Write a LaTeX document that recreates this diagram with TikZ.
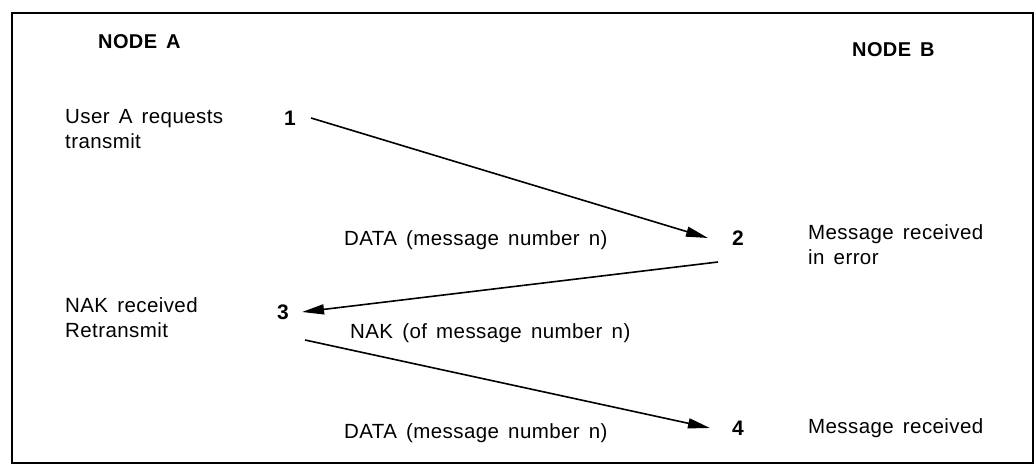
\documentclass[tikz,border=0pt]{standalone}
\usepackage{fontspec}
\setmainfont{Liberation Sans}[LetterSpace=2, WordSpace=1.5]
\usetikzlibrary{arrows.meta,positioning}
\tikzset{
  % plain label text
  lab/.style={anchor=west, align=left, inner sep=0pt,
    font=\fontsize{20.5}{25}\selectfont},
  % step numbers
  num/.style={inner sep=0pt, font=\fontsize{21}{24}\selectfont\bfseries},
  % column headings
  head/.style={anchor=west, inner sep=0pt, font=\fontsize{20}{24}\selectfont\bfseries},
  % message arrows
  arr/.style={-{Triangle[length=22pt,width=10pt]}, line width=1.6pt},
}
\begin{document}
\begin{tikzpicture}[x=1pt, y=-1pt]
  \useasboundingbox (0,0) rectangle (1035,473);
  \draw[line width=2pt] (12,13) rectangle (1033,463);

  % headings
  \node[head] (nodeA) at (98,42) {NODE A};
  \node[head] (nodeB) at (852,50) {NODE B};

  % Node A side
  \node[lab] (req) at (65,129) {User A requests\\transmit};
  \node[lab] (nakrcv) at (65,318) {NAK received\\Retransmit};
  \node[num] (n1) at (290,118) {1};
  \node[num] (n3) at (283,312) {3};

  % Node B side
  \node[num] (n2) at (738,238) {2};
  \node[num] (n4) at (738,428) {4};
  \node[lab] (err) at (808,245) {Message received\\in error};
  \node[lab] (ok) at (808,428) {Message received};

  % message texts
  \node[lab] (data1) at (344,240) {DATA (message number n)};
  \node[lab] (nak) at (350,333) {NAK (of message number n)};
  \node[lab] (data2) at (344,433) {DATA (message number n)};

  % messages
  \draw[arr] ([xshift=15pt]n1.east) -- ([xshift=-24pt]n2.west);
  \draw[arr] ([xshift=-14pt, yshift=-24pt]n2.west) -- ([xshift=13pt]n3.east);
  \draw[arr] ([xshift=16pt, yshift=-28pt]n3.east) -- ([xshift=-22pt]n4.west);
\end{tikzpicture}
\end{document}
